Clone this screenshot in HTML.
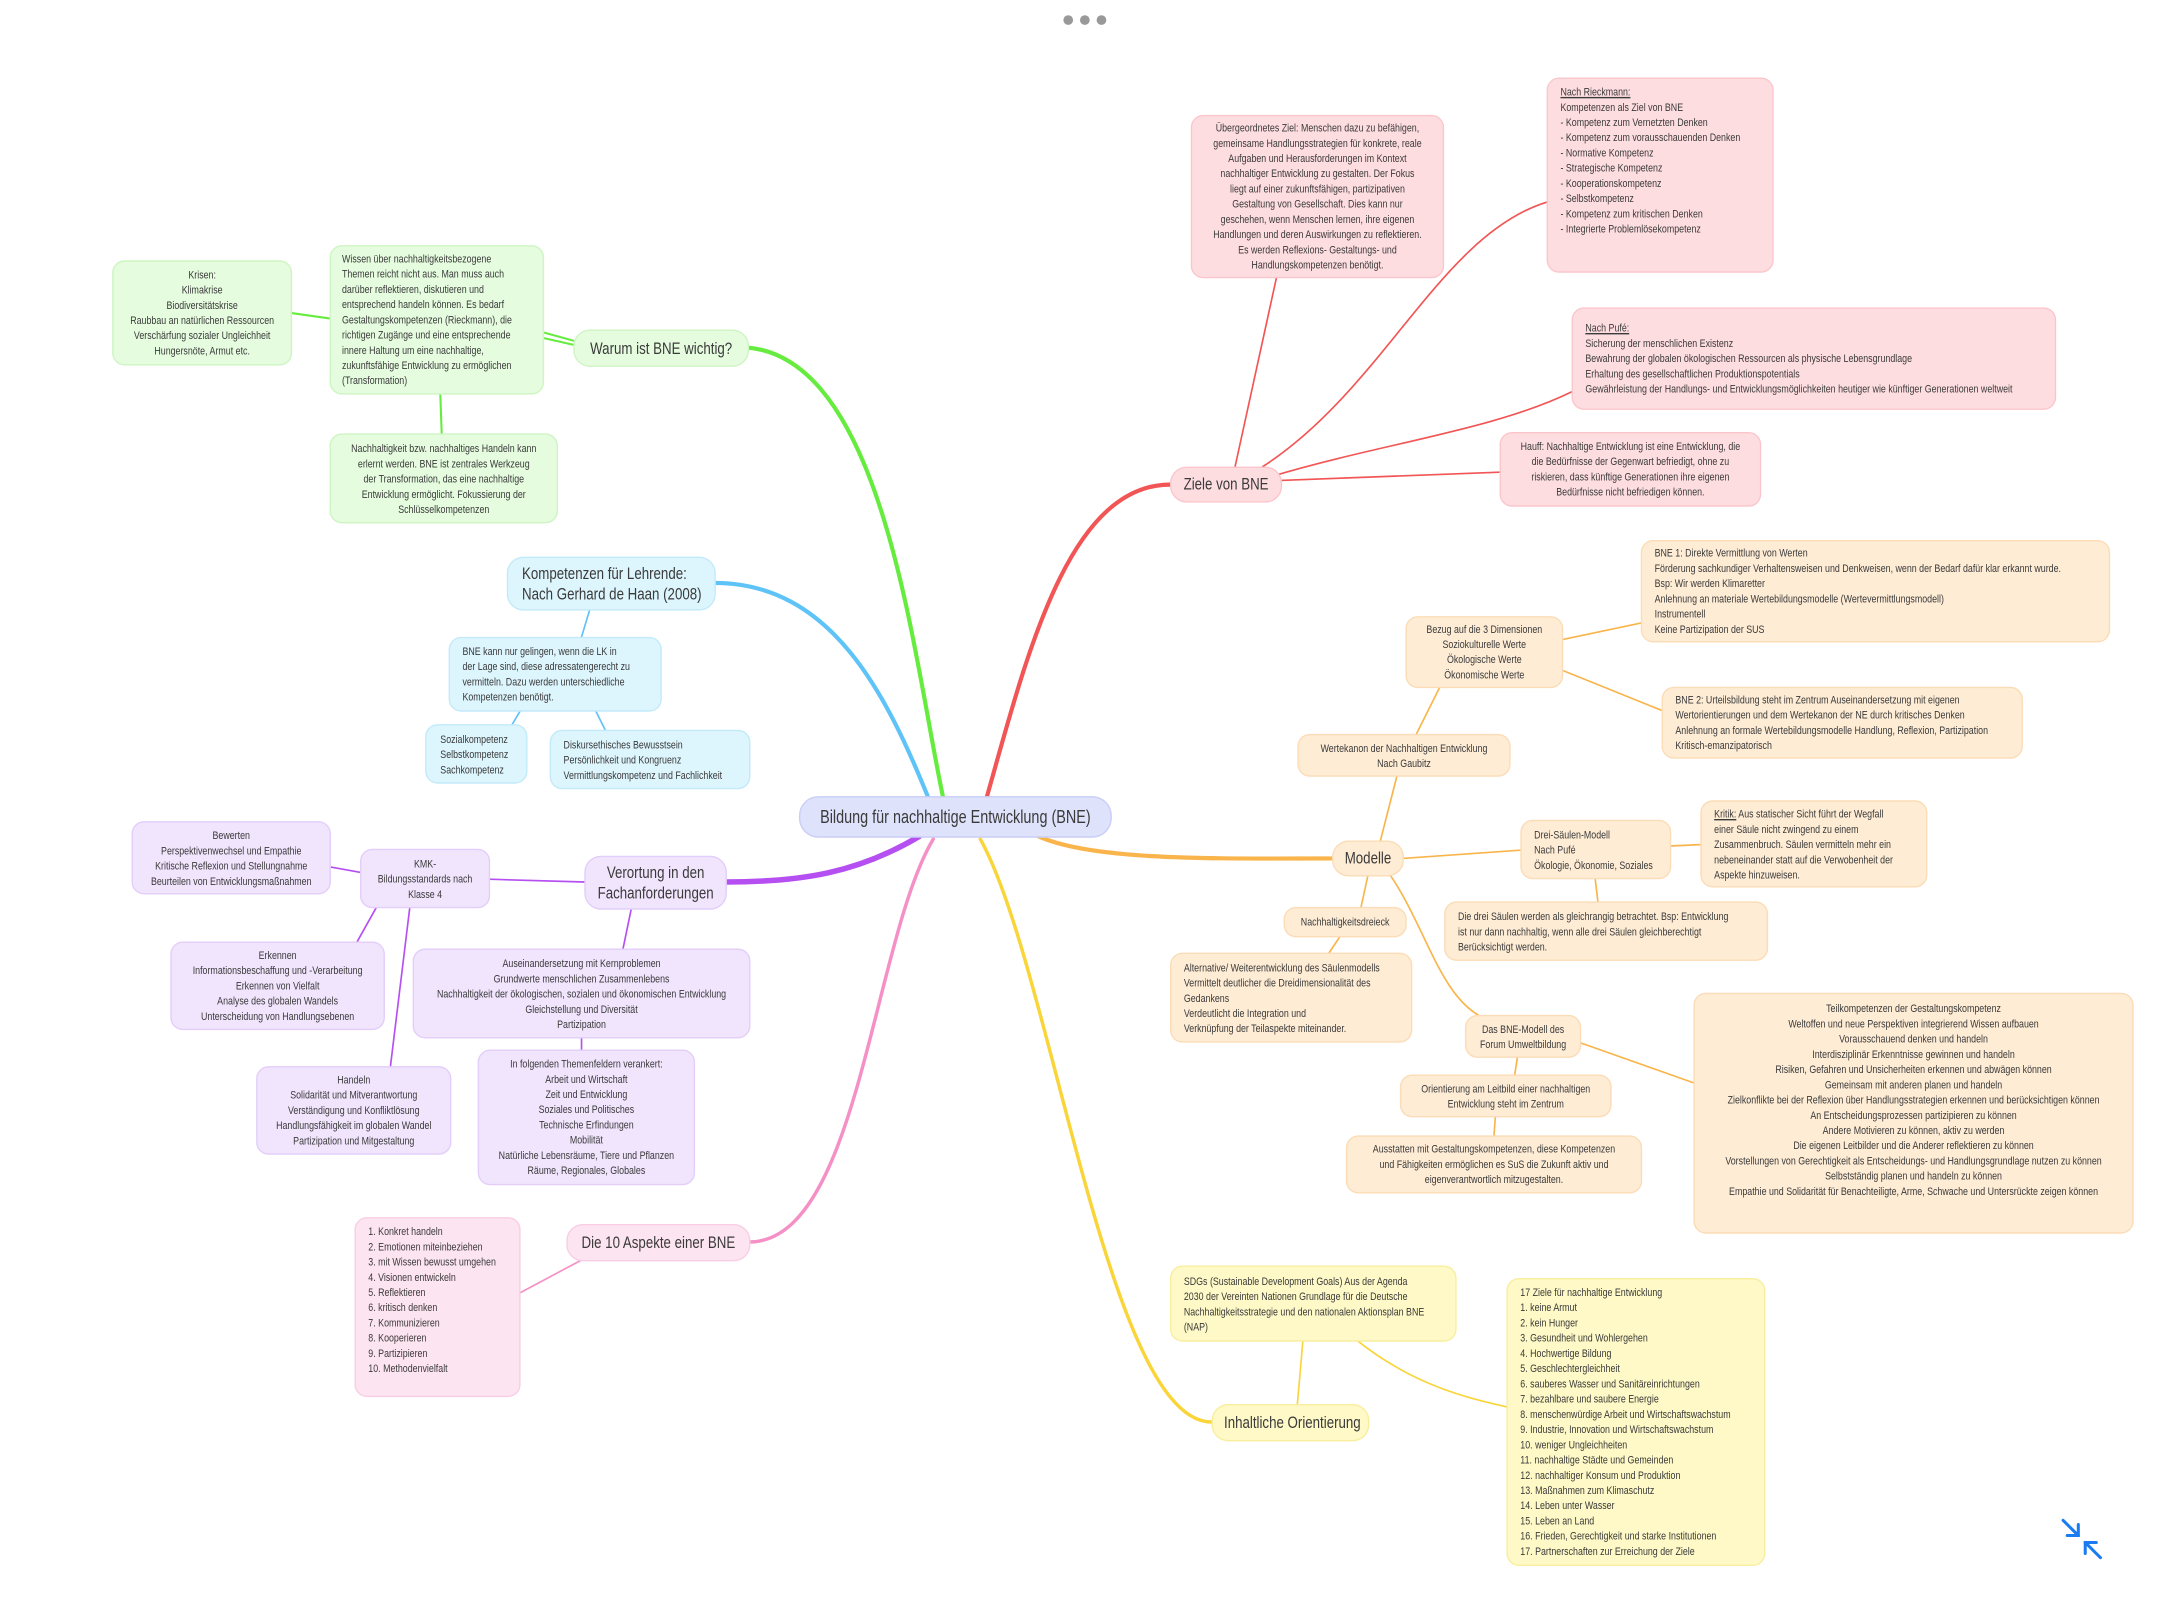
<!DOCTYPE html>
<html><head><meta charset="utf-8">
<style>
html,body{margin:0;padding:0;background:#fff;}
body{width:2160px;height:1620px;overflow:hidden;position:relative;}
#s{position:absolute;left:0;top:0;width:1560px;height:1170px;transform:scale(1.384615);transform-origin:0 0;font-family:"Liberation Sans",sans-serif;color:#3a3a3a;}
.n{position:absolute;box-sizing:border-box;border-radius:9px;border:1px solid;font-size:8px;line-height:11px;white-space:nowrap;overflow:hidden;}
.i{position:absolute;left:8px;width:calc((100% - 16px)/0.8);top:50%;transform:translateY(-50%) scaleX(0.8);transform-origin:left center;}
.tp .i{top:4px;transform:scaleX(0.8);transform-origin:left top;}
.c .i{text-align:center;}
.t{font-size:12px;line-height:15px;border-radius:12px;}
.g{background:#e5fcdf;border-color:#cdf5c2;}
.b{background:#ddf5fd;border-color:#c3eafa;}
.p{background:#f1e4fd;border-color:#e3cdfa;}
.k{background:#fde4f1;border-color:#f9cde4;}
.r{background:#fedde0;border-color:#fbc6cb;}
.o{background:#feecd5;border-color:#fbdcb6;}
.y{background:#fef9c6;border-color:#f8ee9e;}
u{text-decoration:underline;}
svg{position:absolute;left:0;top:0;}
</style></head><body><div id="s">
<svg width="1560" height="1170" fill="none" stroke-linecap="round">
<path d="M682 580 C660 480 640 260 540 251" stroke="#66ec3e" stroke-width="3"/>
<path d="M672 580 C640 500 600 421 516 421" stroke="#5ec3f7" stroke-width="3"/>
<path d="M664 604 C620 630 580 637 524 637" stroke="#b54ff2" stroke-width="4"/>
<path d="M674 606 C630 680 620 897 541 897" stroke="#f590c6" stroke-width="2.5"/>
<path d="M712 578 C740 480 770 350 845 350" stroke="#f25555" stroke-width="3"/>
<path d="M750 604 C790 622 880 620 962 620" stroke="#f9b54c" stroke-width="3"/>
<path d="M708 606 C760 700 800 1027 875 1027" stroke="#f9d53a" stroke-width="2.5"/>
<g stroke="#66ec3e" stroke-width="1.5">
<path d="M210 226 L238 230"/><path d="M392 240 L414 246"/><path d="M392 244 L414 249"/><path d="M318 285 L319 313"/>
</g>
<g stroke="#5ec3f7" stroke-width="1.2">
<path d="M426 440 L420 460"/><path d="M376 513 L370 523"/><path d="M430 513 L437 527"/>
</g>
<g stroke="#b54ff2" stroke-width="1.2">
<path d="M353 635 L422 637"/><path d="M238 626 L260 630"/><path d="M272 655 L258 680"/><path d="M296 655 L282 770"/><path d="M456 656 L450 685"/><path d="M420 749 L420 758"/>
</g>
<path d="M420 910 L375 934" stroke="#f590c6" stroke-width="1.2"/>
<g stroke="#f25555" stroke-width="1.2">
<path d="M892 337 L922 200"/><path d="M912 337 C1000 280 1040 170 1117 146"/><path d="M922 343 C1000 320 1080 310 1135 283"/><path d="M925 347 L1083 341"/>
</g>
<g stroke="#f9b54c" stroke-width="1.2">
<path d="M997 607 L1009 560"/><path d="M1023 530 L1040 496"/><path d="M1128 462 L1185 450"/><path d="M1128 484 L1200 513"/>
<path d="M1013 620 L1098 614"/><path d="M1206 611 L1228 610"/><path d="M1152 634 L1154 651"/>
<path d="M988 632 L983 655"/><path d="M968 676 L960 688"/>
<path d="M1004 632 C1030 670 1040 720 1071 735"/><path d="M1141 753 L1223 782"/>
<path d="M1096 763 L1094 776"/><path d="M1080 806 L1079 820"/>
</g>
<g stroke="#f9d53a" stroke-width="1.2">
<path d="M937 1014 L941 968"/><path d="M980 968 C1020 1000 1060 1010 1088 1016"/>
</g>
</svg>
<div style="position:absolute;left:768px;top:11px;width:32px;height:7px;">
<span style="position:absolute;left:0;width:7px;height:7px;border-radius:50%;background:#999"></span>
<span style="position:absolute;left:12px;width:7px;height:7px;border-radius:50%;background:#999"></span>
<span style="position:absolute;left:24px;width:7px;height:7px;border-radius:50%;background:#999"></span></div>

<div class="n c t" style="left:577px;top:575px;width:226px;height:30px;background:#dee2fb;border-color:#c8cef6;font-size:13px;border-radius:14px;"><div class="i">Bildung für nachhaltige Entwicklung (BNE)</div></div>

<div class="n c t g" style="left:414px;top:238px;width:127px;height:27px;"><div class="i">Warum ist BNE wichtig?</div></div>
<div class="n g" style="left:238px;top:177px;width:155px;height:108px;"><div class="i">Wissen über nachhaltigkeitsbezogene<br>Themen reicht nicht aus.  Man muss auch<br>darüber reflektieren, diskutieren und<br>entsprechend handeln können. Es bedarf<br>Gestaltungskompetenzen (Rieckmann), die<br>richtigen Zugänge und eine entsprechende<br>innere Haltung um eine nachhaltige,<br>zukunftsfähige Entwicklung zu ermöglichen<br>(Transformation)</div></div>
<div class="n c g" style="left:81px;top:188px;width:130px;height:76px;"><div class="i">Krisen:<br>Klimakrise<br>Biodiversitätskrise<br>Raubbau an natürlichen Ressourcen<br>Verschärfung sozialer Ungleichheit<br>Hungersnöte, Armut etc.</div></div>
<div class="n c g" style="left:238px;top:313px;width:165px;height:65px;"><div class="i">Nachhaltigkeit bzw. nachhaltiges Handeln kann<br>erlernt werden.  BNE ist zentrales Werkzeug<br>der Transformation, das eine nachhaltige<br>Entwicklung ermöglicht. Fokussierung der<br>Schlüsselkompetenzen</div></div>

<div class="n t b" style="left:366px;top:402px;width:151px;height:39px;"><div class="i" style="left:10px">Kompetenzen für Lehrende:<br>Nach Gerhard de Haan (2008)</div></div>
<div class="n b" style="left:324px;top:460px;width:154px;height:54px;"><div class="i" style="left:9px">BNE kann nur gelingen, wenn die LK in<br>der Lage sind, diese adressatengerecht zu<br>vermitteln. Dazu werden unterschiedliche<br>Kompetenzen benötigt.</div></div>
<div class="n b" style="left:307px;top:523px;width:74px;height:43px;"><div class="i" style="left:10px">Sozialkompetenz<br>Selbstkompetenz<br>Sachkompetenz</div></div>
<div class="n b" style="left:397px;top:527px;width:145px;height:43px;"><div class="i" style="left:9px">Diskursethisches Bewusstsein<br>Persönlichkeit und Kongruenz<br>Vermittlungskompetenz und Fachlichkeit</div></div>

<div class="n c t p" style="left:422px;top:618px;width:103px;height:39px;"><div class="i">Verortung in den<br>Fachanforderungen</div></div>
<div class="n c p" style="left:260px;top:613px;width:94px;height:43px;"><div class="i">KMK-<br>Bildungsstandards nach<br>Klasse 4</div></div>
<div class="n c p" style="left:95px;top:593px;width:144px;height:53px;"><div class="i">Bewerten<br>Perspektivenwechsel und Empathie<br>Kritische Reflexion und Stellungnahme<br>Beurteilen von Entwicklungsmaßnahmen</div></div>
<div class="n c p" style="left:123px;top:680px;width:155px;height:64px;"><div class="i">Erkennen<br>Informationsbeschaffung und -Verarbeitung<br>Erkennen von Vielfalt<br>Analyse des globalen Wandels<br>Unterscheidung von Handlungsebenen</div></div>
<div class="n c p" style="left:185px;top:770px;width:141px;height:64px;"><div class="i">Handeln<br>Solidarität und Mitverantwortung<br>Verständigung und Konfliktlösung<br>Handlungsfähigkeit im globalen Wandel<br>Partizipation und Mitgestaltung</div></div>
<div class="n c p" style="left:298px;top:685px;width:244px;height:65px;"><div class="i">Auseinandersetzung mit Kernproblemen<br>Grundwerte menschlichen Zusammenlebens<br>Nachhaltigkeit der ökologischen, sozialen und ökonomischen Entwicklung<br>Gleichstellung und Diversität<br>Partizipation</div></div>
<div class="n c p" style="left:345px;top:758px;width:157px;height:98px;"><div class="i">In folgenden Themenfeldern verankert:<br>Arbeit und Wirtschaft<br>Zeit und Entwicklung<br>Soziales und Politisches<br>Technische Erfindungen<br>Mobilität<br>Natürliche Lebensräume, Tiere und Pflanzen<br>Räume, Regionales, Globales</div></div>

<div class="n c t k" style="left:409px;top:884px;width:133px;height:27px;"><div class="i">Die 10 Aspekte einer BNE</div></div>
<div class="n k tp" style="left:256px;top:879px;width:120px;height:130px;"><div class="i" style="left:9px">1. Konkret handeln<br>2. Emotionen miteinbeziehen<br>3. mit Wissen bewusst umgehen<br>4. Visionen entwickeln<br>5. Reflektieren<br>6. kritisch denken<br>7. Kommunizieren<br>8. Kooperieren<br>9. Partizipieren<br>10. Methodenvielfalt</div></div>

<div class="n c t r" style="left:845px;top:337px;width:81px;height:26px;"><div class="i">Ziele von BNE</div></div>
<div class="n c r" style="left:860px;top:83px;width:183px;height:118px;"><div class="i">Übergeordnetes Ziel:  Menschen dazu zu befähigen,<br>gemeinsame Handlungsstrategien für konkrete, reale<br>Aufgaben und Herausforderungen im Kontext<br>nachhaltiger Entwicklung zu gestalten. Der Fokus<br>liegt auf einer zukunftsfähigen, partizipativen<br>Gestaltung von Gesellschaft. Dies kann nur<br>geschehen, wenn Menschen lernen, ihre eigenen<br>Handlungen und deren Auswirkungen zu reflektieren.<br>Es werden Reflexions- Gestaltungs- und<br>Handlungskompetenzen benötigt.</div></div>
<div class="n r tp" style="left:1117px;top:56px;width:164px;height:141px;"><div class="i" style="left:9px"><u>Nach Rieckmann:</u><br>Kompetenzen als Ziel von BNE<br>- Kompetenz zum Vernetzten Denken<br>- Kompetenz zum vorausschauenden Denken<br>- Normative Kompetenz<br>- Strategische Kompetenz<br>- Kooperationskompetenz<br>- Selbstkompetenz<br>- Kompetenz zum kritischen Denken<br>- Integrierte Problemlösekompetenz</div></div>
<div class="n r" style="left:1135px;top:222px;width:350px;height:74px;"><div class="i" style="left:9px"><u>Nach Pufé:</u><br>Sicherung der menschlichen Existenz<br>Bewahrung der globalen ökologischen Ressourcen als physische Lebensgrundlage<br>Erhaltung des gesellschaftlichen Produktionspotentials<br>Gewährleistung der Handlungs- und Entwicklungsmöglichkeiten heutiger wie künftiger Generationen weltweit</div></div>
<div class="n c r" style="left:1083px;top:312px;width:189px;height:54px;"><div class="i">Hauff: Nachhaltige Entwicklung ist eine Entwicklung, die<br>die Bedürfnisse der Gegenwart befriedigt, ohne zu<br>riskieren, dass künftige Generationen ihre eigenen<br>Bedürfnisse nicht befriedigen können.</div></div>

<div class="n c t o" style="left:962px;top:607px;width:52px;height:26px;"><div class="i">Modelle</div></div>
<div class="n c o" style="left:937px;top:530px;width:154px;height:31px;"><div class="i">Wertekanon der Nachhaltigen Entwicklung<br>Nach Gaubitz</div></div>
<div class="n c o" style="left:1015px;top:445px;width:114px;height:52px;"><div class="i">Bezug auf die 3 Dimensionen<br>Soziokulturelle Werte<br>Ökologische Werte<br>Ökonomische Werte</div></div>
<div class="n o" style="left:1185px;top:390px;width:339px;height:74px;"><div class="i" style="left:9px">BNE 1: Direkte Vermittlung von Werten<br>Förderung sachkundiger Verhaltensweisen und Denkweisen, wenn der Bedarf dafür klar erkannt wurde.<br>Bsp: Wir werden Klimaretter<br>Anlehnung an materiale Wertebildungsmodelle (Wertevermittlungsmodell)<br>Instrumentell<br>Keine Partizipation der SUS</div></div>
<div class="n o" style="left:1200px;top:496px;width:261px;height:52px;"><div class="i" style="left:9px">BNE 2: Urteilsbildung steht im Zentrum Auseinandersetzung mit eigenen<br>Wertorientierungen und dem Wertekanon der NE durch kritisches Denken<br>Anlehnung an formale Wertebildungsmodelle Handlung, Reflexion, Partizipation<br>Kritisch-emanzipatorisch</div></div>
<div class="n o" style="left:1098px;top:592px;width:109px;height:43px;"><div class="i" style="left:9px">Drei-Säulen-Modell<br>Nach Pufé<br>Ökologie, Ökonomie, Soziales</div></div>
<div class="n o" style="left:1228px;top:578px;width:164px;height:63px;"><div class="i" style="left:9px"><u>Kritik:</u> Aus statischer Sicht führt der Wegfall<br>einer Säule nicht zwingend zu einem<br>Zusammenbruch. Säulen vermitteln mehr ein<br>nebeneinander statt auf die Verwobenheit der<br>Aspekte hinzuweisen.</div></div>
<div class="n o" style="left:1043px;top:651px;width:234px;height:43px;"><div class="i" style="left:9px">Die drei Säulen werden als gleichrangig betrachtet.  Bsp: Entwicklung<br>ist nur dann nachhaltig, wenn alle drei Säulen  gleichberechtigt<br>Berücksichtigt werden.</div></div>
<div class="n c o" style="left:927px;top:655px;width:89px;height:22px;"><div class="i">Nachhaltigkeitsdreieck</div></div>
<div class="n o" style="left:845px;top:688px;width:175px;height:65px;"><div class="i" style="left:9px">Alternative/ Weiterentwicklung des Säulenmodells<br>Vermittelt deutlicher die Dreidimensionalität des<br>Gedankens<br>Verdeutlicht die Integration und<br>Verknüpfung der Teilaspekte miteinander.</div></div>
<div class="n c o" style="left:1058px;top:733px;width:84px;height:31px;"><div class="i">Das BNE-Modell des<br>Forum Umweltbildung</div></div>
<div class="n c o" style="left:1011px;top:776px;width:153px;height:31px;"><div class="i">Orientierung am Leitbild einer nachhaltigen<br>Entwicklung steht im Zentrum</div></div>
<div class="n c o" style="left:972px;top:820px;width:214px;height:42px;"><div class="i">Ausstatten mit Gestaltungskompetenzen, diese Kompetenzen<br>und Fähigkeiten ermöglichen es SuS die Zukunft aktiv und<br>eigenverantwortlich mitzugestalten.</div></div>
<div class="n c o tp" style="left:1223px;top:717px;width:318px;height:174px;"><div class="i" style="top:5px">Teilkompetenzen der Gestaltungskompetenz<br>Weltoffen und neue Perspektiven integrierend Wissen aufbauen<br>Vorausschauend denken und handeln<br>Interdisziplinär Erkenntnisse gewinnen und handeln<br>Risiken, Gefahren und Unsicherheiten erkennen und abwägen können<br>Gemeinsam mit anderen planen und handeln<br>Zielkonflikte bei der Reflexion über Handlungsstrategien erkennen und berücksichtigen können<br>An Entscheidungsprozessen partizipieren zu können<br>Andere Motivieren zu können, aktiv zu werden<br>Die eigenen Leitbilder und die Anderer reflektieren zu können<br>Vorstellungen von Gerechtigkeit als Entscheidungs- und Handlungsgrundlage nutzen zu können<br>Selbstständig planen und handeln zu können<br>Empathie und Solidarität für Benachteiligte, Arme, Schwache und Untersrückte zeigen können</div></div>

<div class="n c t y" style="left:875px;top:1014px;width:114px;height:27px;"><div class="i">Inhaltliche Orientierung</div></div>
<div class="n y" style="left:845px;top:914px;width:207px;height:55px;"><div class="i" style="left:9px">SDGs (Sustainable Development Goals) Aus der Agenda<br>2030 der Vereinten Nationen Grundlage für die Deutsche<br>Nachhaltigkeitsstrategie und den nationalen Aktionsplan BNE<br>(NAP)</div></div>
<div class="n y" style="left:1088px;top:923px;width:187px;height:208px;"><div class="i" style="left:9px">17 Ziele für nachhaltige Entwicklung<br>1. keine Armut<br>2. kein Hunger<br>3. Gesundheit und Wohlergehen<br>4. Hochwertige Bildung<br>5. Geschlechtergleichheit<br>6. sauberes Wasser und Sanitäreinrichtungen<br>7. bezahlbare und saubere Energie<br>8. menschenwürdige Arbeit und Wirtschaftswachstum<br>9. Industrie, Innovation und Wirtschaftswachstum<br>10. weniger Ungleichheiten<br>11. nachhaltige Städte und Gemeinden<br>12. nachhaltiger Konsum und Produktion<br>13. Maßnahmen zum Klimaschutz<br>14. Leben unter Wasser<br>15. Leben an Land<br>16. Frieden, Gerechtigkeit und starke Institutionen<br>17. Partnerschaften zur Erreichung der Ziele</div></div>

<svg width="1560" height="1170" style="pointer-events:none">
<g stroke="#1a7cf0" stroke-width="2.2" fill="none" stroke-linecap="round">
<path d="M1490 1098 L1501 1109"/><path d="M1501 1101 L1501 1109 L1493 1109"/>
<path d="M1517 1125 L1506 1114"/><path d="M1506 1122 L1506 1114 L1514 1114"/>
</g></svg>
</div></body></html>
